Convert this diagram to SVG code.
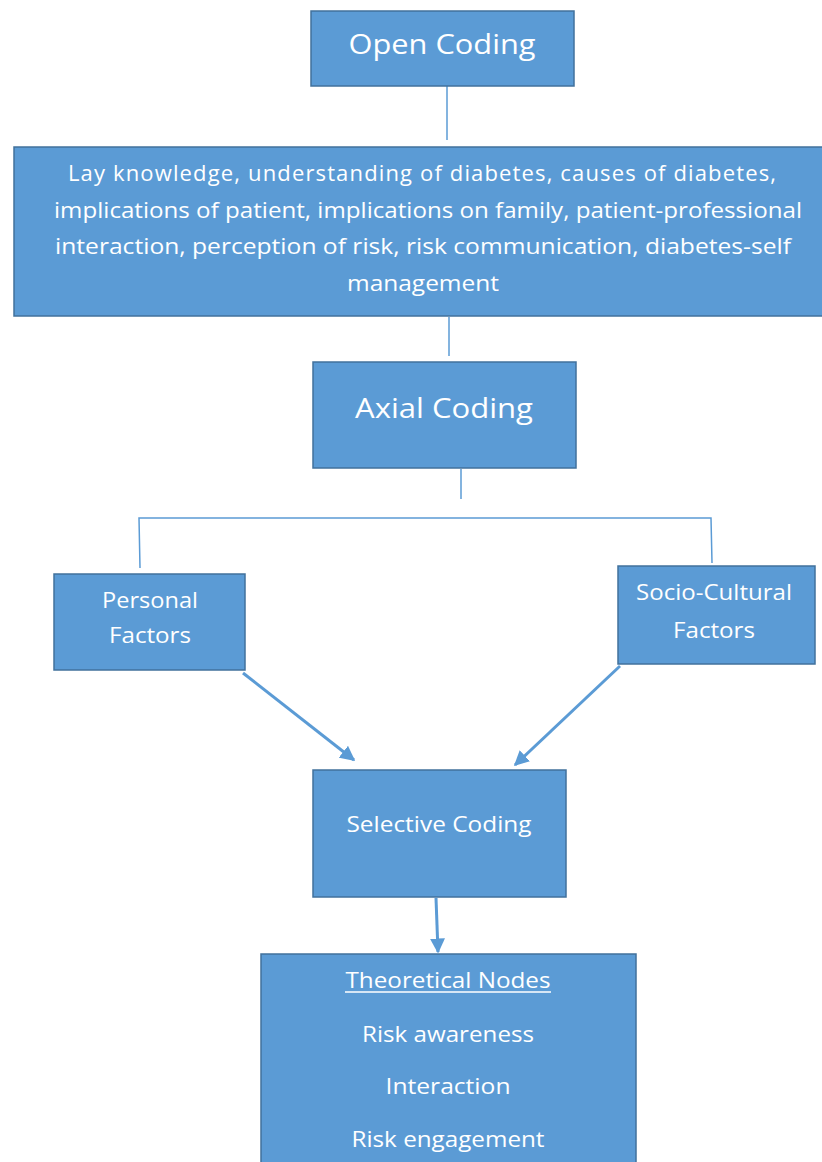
<svg xmlns="http://www.w3.org/2000/svg" width="822" height="1162" viewBox="0 0 822 1162">
<style>
.box{fill:#5B9BD5;stroke:#41719C;stroke-width:1.5}
.t{font-family:"Open Sans","Liberation Sans",sans-serif;fill:#FFFFFF;text-anchor:middle;dominant-baseline:central}
.c{stroke:#5B9BD5;stroke-width:1.5;fill:none}
.a{stroke:#5B9BD5;stroke-width:3;fill:none}
</style>
<defs>
<marker id="ah" viewBox="0 0 10 10" refX="9" refY="5" markerWidth="5" markerHeight="5" orient="auto" markerUnits="strokeWidth">
<path d="M0,0 L10,5 L0,10 z" fill="#5B9BD5"/>
</marker>
</defs>
<rect width="822" height="1162" fill="#FFFFFF"/>
<g id="connectors">
<line class="c" x1="447" y1="86" x2="447" y2="140"/>
<line class="c" x1="449" y1="317" x2="449" y2="356"/>
<line class="c" x1="461" y1="469" x2="461" y2="499"/>
<polyline class="c" points="140,568 139,518 711,518 712,563"/>
<line class="a" x1="243" y1="673" x2="354" y2="760" marker-end="url(#ah)"/>
<line class="a" x1="620" y1="666" x2="515" y2="765" marker-end="url(#ah)"/>
<line class="a" x1="436" y1="898" x2="438" y2="952" marker-end="url(#ah)"/>
</g>
<g id="open-coding">
<rect class="box" x="311" y="11" width="263" height="75"/>
<text class="t" x="442" y="43" font-size="27" textLength="187" lengthAdjust="spacingAndGlyphs">Open Coding</text>
</g>
<g id="open-codes">
<rect class="box" x="14" y="147" width="820" height="169"/>
<text class="t" font-size="22" lengthAdjust="spacingAndGlyphs">
<tspan x="422" y="172" textLength="708">Lay knowledge, understanding of diabetes, causes of diabetes,</tspan>
</text>
<text class="t" font-size="22" x="428" y="209" textLength="748" lengthAdjust="spacingAndGlyphs">implications of patient, implications on family, patient-professional</text>
<text class="t" font-size="22" x="423" y="245" textLength="736" lengthAdjust="spacingAndGlyphs">interaction, perception of risk, risk communication, diabetes-self</text>
<text class="t" font-size="22" x="423" y="282" textLength="152" lengthAdjust="spacingAndGlyphs">management</text>
</g>
<g id="axial-coding">
<rect class="box" x="313" y="362" width="263" height="106"/>
<text class="t" x="444" y="407" font-size="27" textLength="178" lengthAdjust="spacingAndGlyphs">Axial Coding</text>
</g>
<g id="personal-factors">
<rect class="box" x="54" y="574" width="191" height="96"/>
<text class="t" x="150" y="599" font-size="22" textLength="96" lengthAdjust="spacingAndGlyphs">Personal</text>
<text class="t" x="150" y="634" font-size="22" textLength="82" lengthAdjust="spacingAndGlyphs">Factors</text>
</g>
<g id="socio-cultural-factors">
<rect class="box" x="618" y="566" width="197" height="98"/>
<text class="t" x="714" y="591" font-size="22" textLength="156" lengthAdjust="spacingAndGlyphs">Socio-Cultural</text>
<text class="t" x="714" y="629" font-size="22" textLength="82" lengthAdjust="spacingAndGlyphs">Factors</text>
</g>
<g id="selective-coding">
<rect class="box" x="313" y="770" width="253" height="127"/>
<text class="t" x="439" y="823" font-size="22" textLength="185" lengthAdjust="spacingAndGlyphs">Selective Coding</text>
</g>
<g id="theoretical-nodes">
<rect class="box" x="261" y="954" width="375" height="220"/>
<text class="t" x="448" y="979" font-size="22" textLength="205" lengthAdjust="spacingAndGlyphs">Theoretical Nodes</text>
<line x1="345" y1="992" x2="551" y2="992" stroke="#FFFFFF" stroke-width="1.5"/>
<text class="t" x="448" y="1033" font-size="22" textLength="172" lengthAdjust="spacingAndGlyphs">Risk awareness</text>
<text class="t" x="448" y="1085" font-size="22" textLength="125" lengthAdjust="spacingAndGlyphs">Interaction</text>
<text class="t" x="448" y="1138" font-size="22" textLength="193" lengthAdjust="spacingAndGlyphs">Risk engagement</text>
</g>
</svg>
